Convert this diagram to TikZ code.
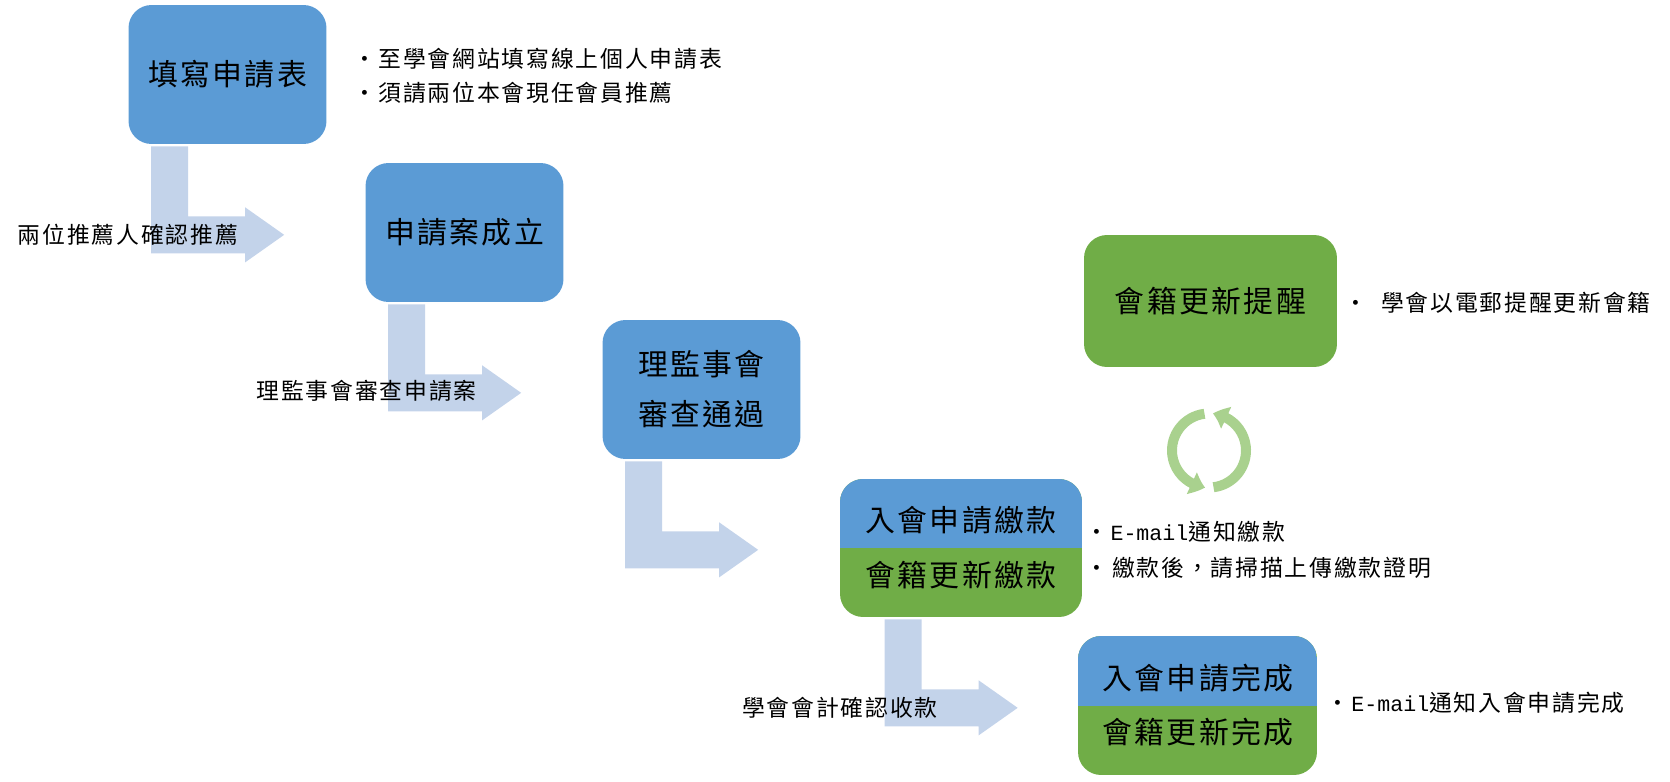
\documentclass[tikz,border=0pt]{standalone}
\usepackage{fontspec}
\setmainfont{Noto Sans CJK TC}
\newfontfamily\ming[LetterSpace=8]{Noto Sans CJK TC}
\newfontfamily\latin{Liberation Mono}
\usetikzlibrary{calc,arrows.meta,bending}
\definecolor{stepblue}{HTML}{5B9BD5}
\definecolor{stepgreen}{HTML}{70AD47}
\definecolor{flowblue}{HTML}{C3D3EA}
\definecolor{cyclegreen}{HTML}{A9D18E}
\newcommand{\mailword}{{\latin\fontsize{12.3}{16}\selectfont E-mail}}
\tikzset{
  stepbox/.style={rounded corners=0.46cm,minimum width=3.96cm,minimum height=2.78cm,inner sep=0,
    fill=stepblue,align=center,font=\ming\fontsize{17}{28.5}\selectfont},
  splitbox/.style={stepbox,fill=stepgreen,path picture={
    \fill[stepblue,sharp corners] (path picture bounding box.west) rectangle (path picture bounding box.north east);}},
  steptext/.style={inner sep=0,font=\ming\fontsize{17}{20}\selectfont},
  note/.style={anchor=west,inner sep=0,font=\ming\fontsize{13}{16}\selectfont},
  flowarrow/.style={fill=flowblue},
  cyclearrow/.style={draw=cyclegreen,line width=0.2cm,-{Triangle[width=0.46cm,length=0.28cm,bend]}}
}
\begin{document}
\begin{tikzpicture}[x=0.02cm,y=-0.02cm]
\useasboundingbox (0,0) rectangle (1670,781);
\node at (227.5,74.5) [stepbox] (fill) {填寫申請表};
\node at (464.5,232.5) [stepbox] (filed) {申請案成立};
\node at (701.5,389.5) [stepbox] (review) {理監事會\\審查通過};
\node at (961,548) [splitbox,minimum width=4.84cm,minimum height=2.76cm] (pay) {};
\node at (1197.5,705.5) [splitbox,minimum width=4.78cm] (done) {};
\node at (1210.5,301) [stepbox,fill=stepgreen,minimum width=5.06cm,minimum height=2.64cm] (remind) {會籍更新提醒};
\node at (961,520) [steptext] (payjoin) {入會申請繳款};
\node at (961,575) [steptext] (payrenew) {會籍更新繳款};
\node at (1198,678) [steptext] (donejoin) {入會申請完成};
\node at (1198,732) [steptext] (donerenew) {會籍更新完成};
% bent arrows
\foreach \from/\dx in {fill/23,filed/23,review/23,pay/45}
  \fill[flowarrow] ($(\from.south west)+(\dx,2)$) -- ++(37,0) -- ++(0,70) -- ++(57,0) -- ++(0,-9)
    -- ++(39,27.5) -- ++(-39,27.5) -- ++(0,-9) -- ++(-94,0) -- cycle;
\node at (128,235) [note,anchor=center] (confirm) {兩位推薦人確認推薦};
\node at (366.5,391) [note,anchor=center] (check) {理監事會審查申請案};
\node at (840,708) [note,anchor=center] (account) {學會會計確認收款};
\node at (352.7,58.5) [note] (noteform) {•\hspace{1.4pt}至學會網站填寫線上個人申請表};
\node at (352.7,93) [note] (notesign) {•\hspace{1.4pt}須請兩位本會現任會員推薦};
\node at (1344,302.5) [note] (noteremind) {•\hspace{8pt}學會以電郵提醒更新會籍};
\node at (1085.6,532) [note] (notemail) {•\hspace{1pt}\mailword 通知繳款};
\node at (1085.6,568) [note] (notepay) {•\hspace{2pt}繳款後^^^^ff0c請掃描上傳繳款證明};
\node at (1326.5,703) [note] (notedone) {•\hspace{1pt}\mailword 通知入會申請完成};
% cycle
\coordinate (cycle) at (1209,450.5);
\draw[cyclearrow] ($(cycle)+(-97:37)$) arc[start angle=-97,end angle=-264,radius=37];
\draw[cyclearrow] ($(cycle)+(83:37)$) arc[start angle=83,end angle=-84,radius=37];
\end{tikzpicture}
\end{document}
